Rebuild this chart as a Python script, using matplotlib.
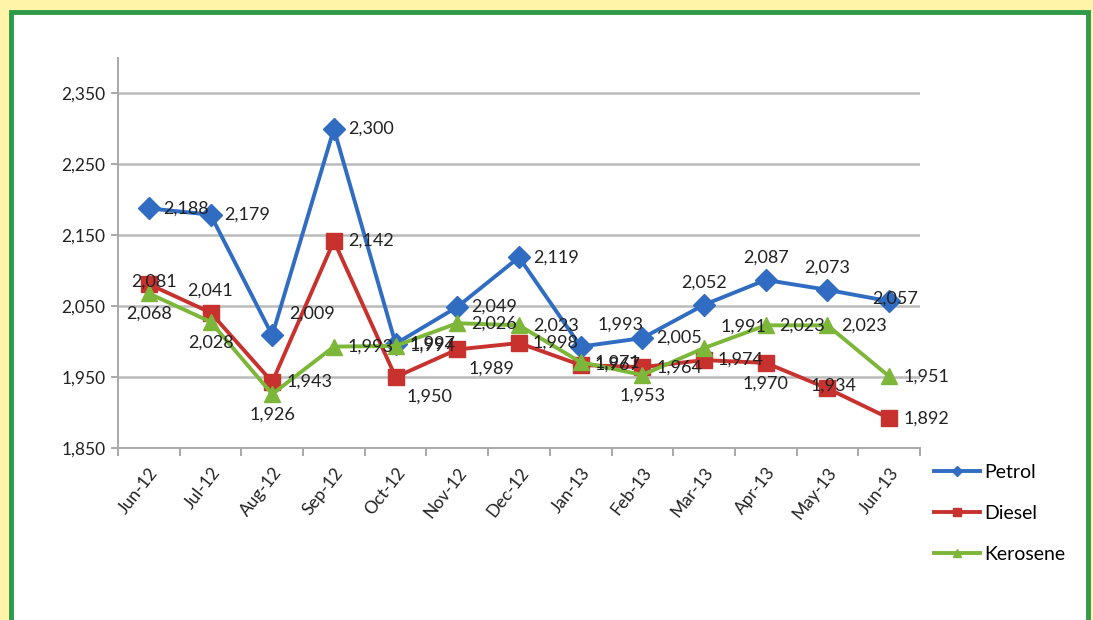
import matplotlib
matplotlib.use("Agg")
import matplotlib.pyplot as plt
from matplotlib.patches import Rectangle
import numpy as np

months = ["Jun-12", "Jul-12", "Aug-12", "Sep-12", "Oct-12", "Nov-12", "Dec-12",
          "Jan-13", "Feb-13", "Mar-13", "Apr-13", "May-13", "Jun-13"]
petrol = [2188, 2179, 2009, 2300, 1997, 2049, 2119, 1993, 2005, 2052, 2087, 2073, 2057]
diesel = [2081, 2041, 1943, 2142, 1950, 1989, 1998, 1967, 1964, 1974, 1970, 1934, 1892]
kerosene = [2068, 2028, 1926, 1993, 1994, 2026, 2023, 1971, 1953, 1991, 2023, 2023, 1951]
yticks = [1850, 1950, 2050, 2150, 2250, 2350]

# label placement codes (style only)
pos_petrol = ["r", "r", "ar", "r", "r", "r", "r", "ar", "r", "a", "a", "a", "c"]
pos_diesel = ["c", "a", "r", "r", "br", "br", "r", "r", "r", "r", "b", "c", "r"]
pos_kero = ["b", "b", "b", "r", "r", "r", "r", "r", "b", "ar", "r", "r", "r"]

plt.rcParams['font.family'] = ['Lato', 'DejaVu Sans']

fig = plt.figure(figsize=(10.93, 6.2), dpi=100)
fig.patch.set_facecolor("#FFF4A8")
fig.patches.append(Rectangle((11/1093, -0.01), 1077/1093, 1 - 12/620 + 0.01, transform=fig.transFigure,
                             facecolor="white", edgecolor="#2E9A4A", linewidth=3.5, zorder=-5))

ax = fig.add_axes([118/1093, 1 - 448/620, (920 - 118)/1093, (448 - 58)/620])
ax.set_facecolor("none")
x = np.arange(len(months))

series = [
    ("Petrol", petrol, "#2F6CC2", "D", 11, pos_petrol),
    ("Diesel", diesel, "#C8322E", "s", 12, pos_diesel),
    ("Kerosene", kerosene, "#7DB73A", "^", 12, pos_kero),
]
for name, vals, col, mk, ms, pos in series:
    ax.plot(x, vals, color=col, lw=2.8, marker=mk, markersize=ms, label=name, zorder=3)

offs = {"r": (10, 0, "left", "center"), "a": (0, 10, "center", "bottom"),
        "b": (0, -9, "center", "top"), "ar": (12, 10, "left", "bottom"),
        "br": (8, -8, "left", "top"), "c": (4, 2, "center", "center")}
for name, vals, col, mk, ms, pos in series:
    for xi, v, p in zip(x, vals, pos):
        dx, dy, ha, va = offs[p]
        ax.annotate(f"{v:,}", (xi, v), xytext=(dx, dy), textcoords="offset points",
                    ha=ha, va=va, fontsize=13, color="#222222", zorder=5)

ax.set_xlim(-0.5, len(months) - 0.5)
ax.set_ylim(1850, 2400)
ax.set_yticks(yticks)
ax.set_yticklabels([f"{t:,}" for t in yticks], fontsize=12.5, color="#222222")
ax.set_xticks(x)
ax.set_xticklabels(months, rotation=52, ha="right", rotation_mode="anchor",
                   fontsize=12.5, color="#222222")
ax.set_xticks(np.arange(-0.5, len(months), 1), minor=True)
ax.tick_params(axis="x", which="major", length=0, pad=12)
ax.tick_params(axis="x", which="minor", length=6, color="#999999", width=1.2)
ax.tick_params(axis="y", length=5, color="#999999", width=1.2, pad=4)
ax.grid(axis="y", color="#BBBBBB", lw=1.8, zorder=0)
for s in ["top", "right"]:
    ax.spines[s].set_visible(False)
for s in ["left", "bottom"]:
    ax.spines[s].set_color("#AAAAAA")
    ax.spines[s].set_linewidth(1.4)

leg = ax.legend(loc="upper left", frameon=False,
                fontsize=14, handlelength=2.4, labelspacing=1.25, handletextpad=0.2,
                markerscale=0.5)
leg.set_bbox_to_anchor((916/1093, 1 - 446/620), transform=fig.transFigure)

fig.savefig("out.png", dpi=100, facecolor=fig.get_facecolor())
